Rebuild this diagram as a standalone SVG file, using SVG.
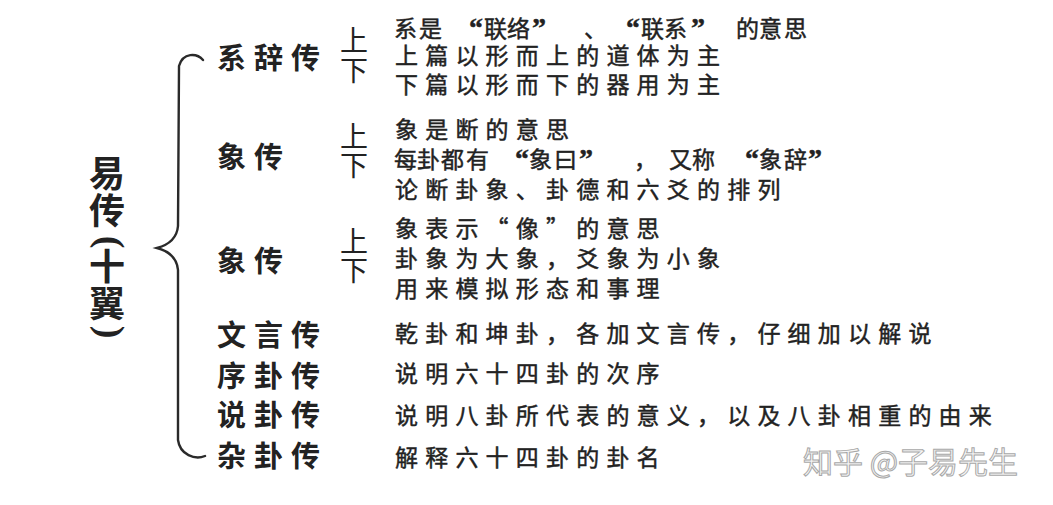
<svg xmlns="http://www.w3.org/2000/svg" width="1053" height="505" viewBox="0 0 1053 505">
<style>
.t{font-family:"Noto Sans CJK SC","Noto Sans CJK JP",sans-serif;fill:#222;}
.title{font-size:36px;font-weight:bold;text-anchor:middle;}
.par{font-family:"Liberation Serif",serif;font-size:38px;font-weight:bold;fill:#222;text-anchor:middle;}
.node{font-size:29px;font-weight:bold;letter-spacing:8px;}
.ud{font-size:28px;text-anchor:middle;font-weight:normal;}
.desc{font-size:23px;letter-spacing:7.2px;stroke:#222;stroke-width:0.45px;}
.xl{letter-spacing:0;}
.q{font-family:"Liberation Serif",serif;font-size:28px;font-weight:bold;}
.wm{font-family:"Noto Sans CJK SC",sans-serif;font-size:30px;fill:#f6f6f6;stroke:#a8a8a8;stroke-width:1;}
.brace{fill:none;stroke:#2a2a2a;stroke-width:2.4;stroke-linecap:round;}
</style>
<rect width="1053" height="505" fill="#ffffff"/>
<g id="root">
<text class="t title" x="107" y="187">易</text>
<text class="t title" x="107" y="224">传</text>
<text class="par" transform="translate(107,242) rotate(90)" x="0" y="9">(</text>
<text class="t title" x="107" y="280">十</text>
<text class="t title" x="107" y="317">翼</text>
<text class="par" transform="translate(107,332) rotate(90)" x="0" y="9">)</text>
</g>
<g id="connectors">
<path class="brace" d="M203,60 C197,53 183,52 179,66 L178,226 C177,238 168,245 157,248 C168,251 177,258 178,270 L178,440 C180,455 195,460 205,456"/>
</g>
<g id="node-xici">
<text class="t node" x="217" y="69">系辞传</text>
<text class="t ud" x="354" y="51">上</text>
<text class="t ud" x="354" y="81">下</text>
<text class="t desc xl" y="37"><tspan x="394 419">系是</tspan><tspan class="q" x="469">“</tspan><tspan x="484 507">联络</tspan><tspan class="q" x="532">”</tspan><tspan x="584">、</tspan><tspan class="q" x="626">“</tspan><tspan x="641 664">联系</tspan><tspan class="q" x="691">”</tspan><tspan x="736 759 784">的意思</tspan></text>
<text class="t desc" x="395" y="64">上篇以形而上的道体为主</text>
<text class="t desc" x="395" y="93">下篇以形而下的器用为主</text>
</g>
<g id="node-tuan">
<text class="t node" x="217" y="168">象传</text>
<text class="t ud" x="354" y="147">上</text>
<text class="t ud" x="354" y="176">下</text>
<text class="t desc" x="395" y="138">象是断的意思</text>
<text class="t desc xl" y="168"><tspan x="394 417 441 466">每卦都有</tspan><tspan class="q" x="515">“</tspan><tspan x="529 554">象曰</tspan><tspan class="q" x="579">”</tspan><tspan x="634 669 692">，又称</tspan><tspan class="q" x="745">“</tspan><tspan x="759 784">象辞</tspan><tspan class="q" x="808">”</tspan></text>
<text class="t desc" x="395" y="198">论断卦象、卦德和六爻的排列</text>
</g>
<g id="node-xiang">
<text class="t node" x="217" y="272">象传</text>
<text class="t ud" x="354" y="252">上</text>
<text class="t ud" x="354" y="281">下</text>
<text class="t desc" x="395" y="237">象表示“像”的意思</text>
<text class="t desc" x="395" y="267">卦象为大象，爻象为小象</text>
<text class="t desc" x="395" y="297">用来模拟形态和事理</text>
</g>
<g id="node-wenyan">
<text class="t node" x="217" y="346">文言传</text>
<text class="t desc" x="395" y="342">乾卦和坤卦，各加文言传，仔细加以解说</text>
</g>
<g id="node-xugua">
<text class="t node" x="217" y="387">序卦传</text>
<text class="t desc" x="395" y="382">说明六十四卦的次序</text>
</g>
<g id="node-shuogua">
<text class="t node" x="217" y="426">说卦传</text>
<text class="t desc" x="395" y="424">说明八卦所代表的意义，以及八卦相重的由来</text>
</g>
<g id="node-zagua">
<text class="t node" x="217" y="467">杂卦传</text>
<text class="t desc" x="395" y="466">解释六十四卦的卦名</text>
</g>
<g id="watermark">
<text class="wm" x="803" y="473">知乎 @子易先生</text>
</g>
</svg>
